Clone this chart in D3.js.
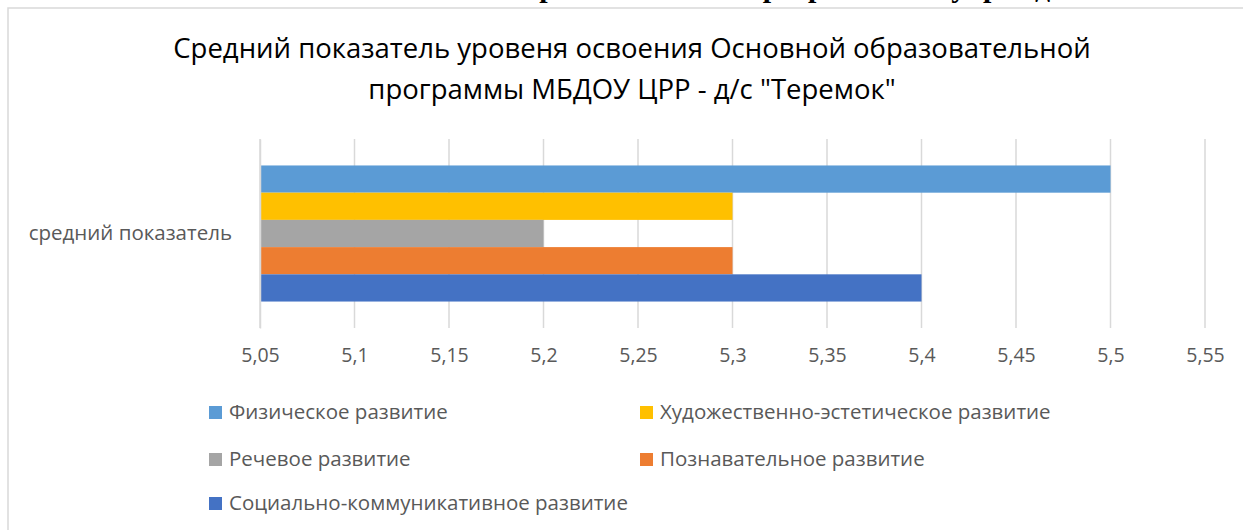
<!DOCTYPE html>
<html><head><meta charset="utf-8">
<script src="https://cdn.jsdelivr.net/npm/d3@7"></script>
<style>html,body{margin:0;padding:0;background:#fff;overflow:hidden}</style>
</head><body>
<script>
const categories = ["средний показатель"];
const seriesNames = ["Физическое развитие","Художественно-эстетическое развитие","Речевое развитие","Познавательное развитие","Социально-коммуникативное развитие"];
const seriesValues = [5.5, 5.3, 5.2, 5.3, 5.4];
const seriesColors = ["#5b9bd5","#ffc000","#a5a5a5","#ed7d31","#4472c4"];
const tickValues = [5.05,5.1,5.15,5.2,5.25,5.3,5.35,5.4,5.45,5.5,5.55];
const titleLines = ["Средний показатель уровеня освоения Основной образовательной","программы МБДОУ ЦРР - д/с \"Теремок\""];
const headerText = "Показатели освоения основной образовательной программы по учреждению";

const W=1243,H=530;
const font="'Open Sans', 'Noto Sans', sans-serif";
const svg=d3.select("body").append("svg").attr("width",W).attr("height",H);

// cut-off header text
svg.append("text").attr("x",600).attr("y",-3).attr("text-anchor","middle")
  .attr("font-family","'Liberation Serif', serif").attr("font-weight","bold").attr("font-size",30)
  .attr("fill","#000").text(headerText);

// frame
svg.append("rect").attr("x",8).attr("y",8).attr("width",W).attr("height",H).attr("fill","#fff").attr("stroke","#d9d9d9").attr("stroke-width",1.5);

// title
svg.append("g").selectAll("text").data(titleLines).join("text")
  .attr("x",632).attr("y",(d,i)=>58+i*41).attr("text-anchor","middle")
  .attr("font-family",font).attr("font-size",27.5).attr("fill","#000").text(d=>d);

const x=d3.scaleLinear().domain([5.05,5.55]).range([260,1205]);
const y0=d3.scaleBand().domain(categories).range([139,328]);
const y1=d3.scaleBand().domain(seriesNames).range([y0.bandwidth()*0.14,y0.bandwidth()*0.86]);

// grid
svg.append("g").selectAll("line").data(tickValues).join("line")
  .attr("x1",d=>x(d)).attr("x2",d=>x(d)).attr("y1",139).attr("y2",328)
  .attr("stroke","#d9d9d9").attr("stroke-width",1.5);

// bars
const g=svg.append("g");
categories.forEach(c=>{
  g.selectAll("rect.b").data(seriesNames.map((n,i)=>({n,v:seriesValues[i],c:seriesColors[i]}))).join("rect")
    .attr("x",x(5.05)).attr("y",d=>y0(c)+y1(d.n)).attr("height",y1.bandwidth())
    .attr("width",d=>x(d.v)-x(5.05)).attr("fill",d=>d.c);
});

// x axis labels
const fmt=d=>String(d).replace(".",",");
const ax=svg.append("g").attr("transform","translate(0,328)")
  .call(d3.axisBottom(x).tickValues(tickValues).tickFormat(fmt).tickSize(0).tickPadding(20));
ax.select(".domain").remove();
ax.selectAll("text").attr("font-family",font).attr("font-size",19.5).attr("fill","#595959");

// category axis
const ay=svg.append("g").attr("transform","translate(260,0)")
  .call(d3.axisLeft(y0).tickSize(0).tickPadding(28));
ay.select(".domain").attr("stroke","#d9d9d9").attr("stroke-width",1.5);
ay.selectAll("text").attr("font-family",font).attr("font-size",20.5).attr("fill","#595959");

// legend
const legPos=[[209,412],[640,412],[209,459],[640,459],[209,503]];
const lg=svg.append("g").selectAll("g").data(seriesNames).join("g")
  .attr("transform",(d,i)=>`translate(${legPos[i][0]},${legPos[i][1]})`);
lg.append("rect").attr("x",0).attr("y",-6).attr("width",13).attr("height",13).attr("fill",(d,i)=>seriesColors[i]);
lg.append("text").attr("x",20).attr("y",0).attr("dy","0.35em").attr("font-family",font)
  .attr("font-size",20.5).attr("fill","#595959").text(d=>d);
</script>
</body></html>
